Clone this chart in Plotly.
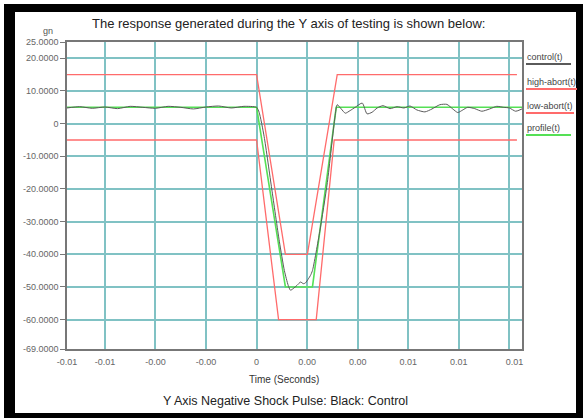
import plotly.graph_objects as go

# ---------------- data ----------------
t_limits = [-0.0075, 0.0, 0.00114, 0.00201, 0.00319, 0.0103]
high_abort = [15, 15, -40, -40, 15, 15]

t_low = [-0.0075, 0.0, 0.00087, 0.00236, 0.00307, 0.0103]
low_abort = [-5, -5, -60, -60, -5, -5]

t_profile = [-0.0075, 0.0, 0.00114, 0.00221, 0.00315, 0.0105]
profile = [5, 5, -50, -50, 5, 5]

t_control = [-0.0075, -0.0070, -0.0065, -0.0060, -0.0055, -0.0050, -0.0045, -0.0040,
             -0.0035, -0.0030, -0.0025, -0.0020, -0.0015, -0.0010, -0.0005, 0.0,
             0.0001, 0.0003, 0.0006, 0.0009, 0.0011, 0.00125, 0.00134, 0.00145,
             0.0016, 0.00174, 0.00185, 0.00193, 0.00205, 0.00213, 0.00221, 0.0025,
             0.0028, 0.0031, 0.00319, 0.00335, 0.00351, 0.0037, 0.0039, 0.00418,
             0.00437, 0.00457, 0.00477, 0.005, 0.00528, 0.00556, 0.00583, 0.00607,
             0.00634, 0.00666, 0.00694, 0.00725, 0.00753, 0.00776, 0.00796, 0.00816,
             0.00835, 0.00863, 0.00891, 0.00922, 0.0095, 0.00977, 0.0100, 0.01025, 0.0105]
control = [4.8, 5.2, 4.7, 5.1, 4.6, 5.3, 5.0, 4.7,
           5.3, 5.0, 4.5, 5.1, 5.4, 4.8, 5.3, 5.0,
           3.5, -4, -20, -36, -45, -49.5, -51, -50.5,
           -49.5, -48.5, -49, -48.8, -47.5, -46.5, -45, -33,
           -18, 2, 5.8, 4.5, 3.2, 4.0, 5.0, 6.3,
           3.0, 3.5, 4.8, 5.5, 4.6, 5.2, 4.8, 5.4,
           4.2, 3.6, 4.5, 5.8, 5.9, 4.5, 3.4, 4.2,
           5.0, 4.6, 3.8, 4.5, 5.3, 5.0, 4.8, 3.8, 4.5]

y_tickvals = [25, 20, 10, 0, -10, -20, -30, -40, -50, -60, -69]
y_ticktext = ["25.0000", "20.0000", "10.0000", "0", "-10.0000", "-20.0000", "-30.0000",
              "-40.0000", "-50.0000", "-60.0000", "-69.0000"]
x_tickvals = [-0.0075, -0.006, -0.004, -0.002, 0.0, 0.002, 0.004, 0.006, 0.008, 0.0102]
x_ticktext = ["-0.01", "-0.01", "-0.00", "-0.00", "0", "0.00", "0.00", "0.01", "0.01", "0.01"]
legend_names = ["control(t)", "high-abort(t)", "low-abort(t)", "profile(t)"]

title_text = "The response generated during the Y axis of testing is shown below:"
caption_text = "Y Axis Negative Shock Pulse: Black: Control"

# ---------------- style ----------------
FONT = "Liberation Sans, Arial, sans-serif"
RED = "#ff6b6b"
GREEN = "#55e055"
CTRL = "#5a5a5a"
GRID = "#80c2c4"
AXIS = "#777777"

W, H = 583, 418
L, R, T, B = 67, 522, 42, 349


def px(x):
    return (x - L) / (R - L)


def py(y):
    return (B - y) / (B - T)


fig = go.Figure()
fig.add_trace(go.Scatter(x=t_low, y=low_abort, mode="lines",
                         line=dict(color=RED, width=1.3), showlegend=False))
fig.add_trace(go.Scatter(x=t_limits, y=high_abort, mode="lines",
                         line=dict(color=RED, width=1.3), showlegend=False))
fig.add_trace(go.Scatter(x=t_profile, y=profile, mode="lines",
                         line=dict(color=GREEN, width=1.6), showlegend=False))
fig.add_trace(go.Scatter(x=t_control, y=control, mode="lines",
                         line=dict(color=CTRL, width=1.0, shape="spline", smoothing=0.6),
                         showlegend=False))
fig.add_trace(go.Scatter(x=[], y=[], xaxis="x2", showlegend=False))

shapes = []
# outer black frame
for (x0, y0, x1, y1) in [(4, 4, 15, 418), (4, 4, 583, 12), (576, 4, 583, 418), (4, 413, 583, 418)]:
    shapes.append(dict(type="rect", xref="paper", yref="paper",
                       x0=px(x0), x1=px(x1), y0=py(y0), y1=py(y1),
                       fillcolor="black", line=dict(width=0), layer="above"))

annotations = []
leg_y = [57, 82, 106, 128]
leg_col = [CTRL, RED, RED, GREEN]
leg_len = [45, 51, 48, 45]
for name, yy, c, ln in zip(legend_names, leg_y, leg_col, leg_len):
    annotations.append(dict(text=name, xref="paper", yref="paper", x=px(525), y=py(yy),
                            xanchor="left", yanchor="middle", showarrow=False,
                            font=dict(family=FONT, size=9, color="#444444")))
    shapes.append(dict(type="line", xref="paper", yref="paper",
                       x0=px(526), x1=px(526 + ln), y0=py(yy + 7), y1=py(yy + 7),
                       line=dict(color=c, width=2)))

annotations += [
    dict(text=title_text, xref="paper", yref="paper", x=px(288), y=py(24),
         xanchor="center", yanchor="middle", showarrow=False,
         font=dict(family=FONT, size=13, color="#222222")),
    dict(text="gn", xref="paper", yref="paper", x=px(48), y=py(31),
         xanchor="center", yanchor="middle", showarrow=False,
         font=dict(family=FONT, size=9, color="#555555")),
    dict(text="Time (Seconds)", xref="paper", yref="paper", x=px(284), y=py(379),
         xanchor="center", yanchor="middle", showarrow=False,
         font=dict(family=FONT, size=10, color="#333333")),
    dict(text=caption_text, xref="paper", yref="paper", x=px(285), y=py(401),
         xanchor="center", yanchor="middle", showarrow=False,
         font=dict(family=FONT, size=12.5, color="#222222")),
]

fig.update_layout(
    width=W, height=H,
    margin=dict(l=L, r=W - R, t=T, b=H - B, pad=0),
    paper_bgcolor="white", plot_bgcolor="white",
    showlegend=False,
    shapes=shapes, annotations=annotations,
    xaxis=dict(range=[-0.0075, 0.0105], tickmode="linear", tick0=0, dtick=0.002,
               showticklabels=False, ticks="", showgrid=True, gridcolor=GRID, gridwidth=1.5,
               zeroline=False, showline=True, linecolor=AXIS, linewidth=1.5, mirror=True),
    xaxis2=dict(range=[-0.0075, 0.0105], overlaying="x", anchor="y", side="bottom",
                tickmode="array", tickvals=x_tickvals, ticktext=x_ticktext,
                showgrid=False, zeroline=False, showline=False, ticks="",
                ticklabelstandoff=6,
                tickfont=dict(family=FONT, size=9, color="#666666")),
    yaxis=dict(range=[-69, 25], tickmode="array", tickvals=y_tickvals, ticktext=y_ticktext,
               showgrid=True, gridcolor=GRID, gridwidth=1.5, zeroline=False,
               showline=True, linecolor=AXIS, linewidth=1.5, mirror=True,
               ticks="outside", ticklen=5, tickcolor=AXIS,
               tickfont=dict(family=FONT, size=9, color="#666666")),
)

fig.write_html("out.html")
